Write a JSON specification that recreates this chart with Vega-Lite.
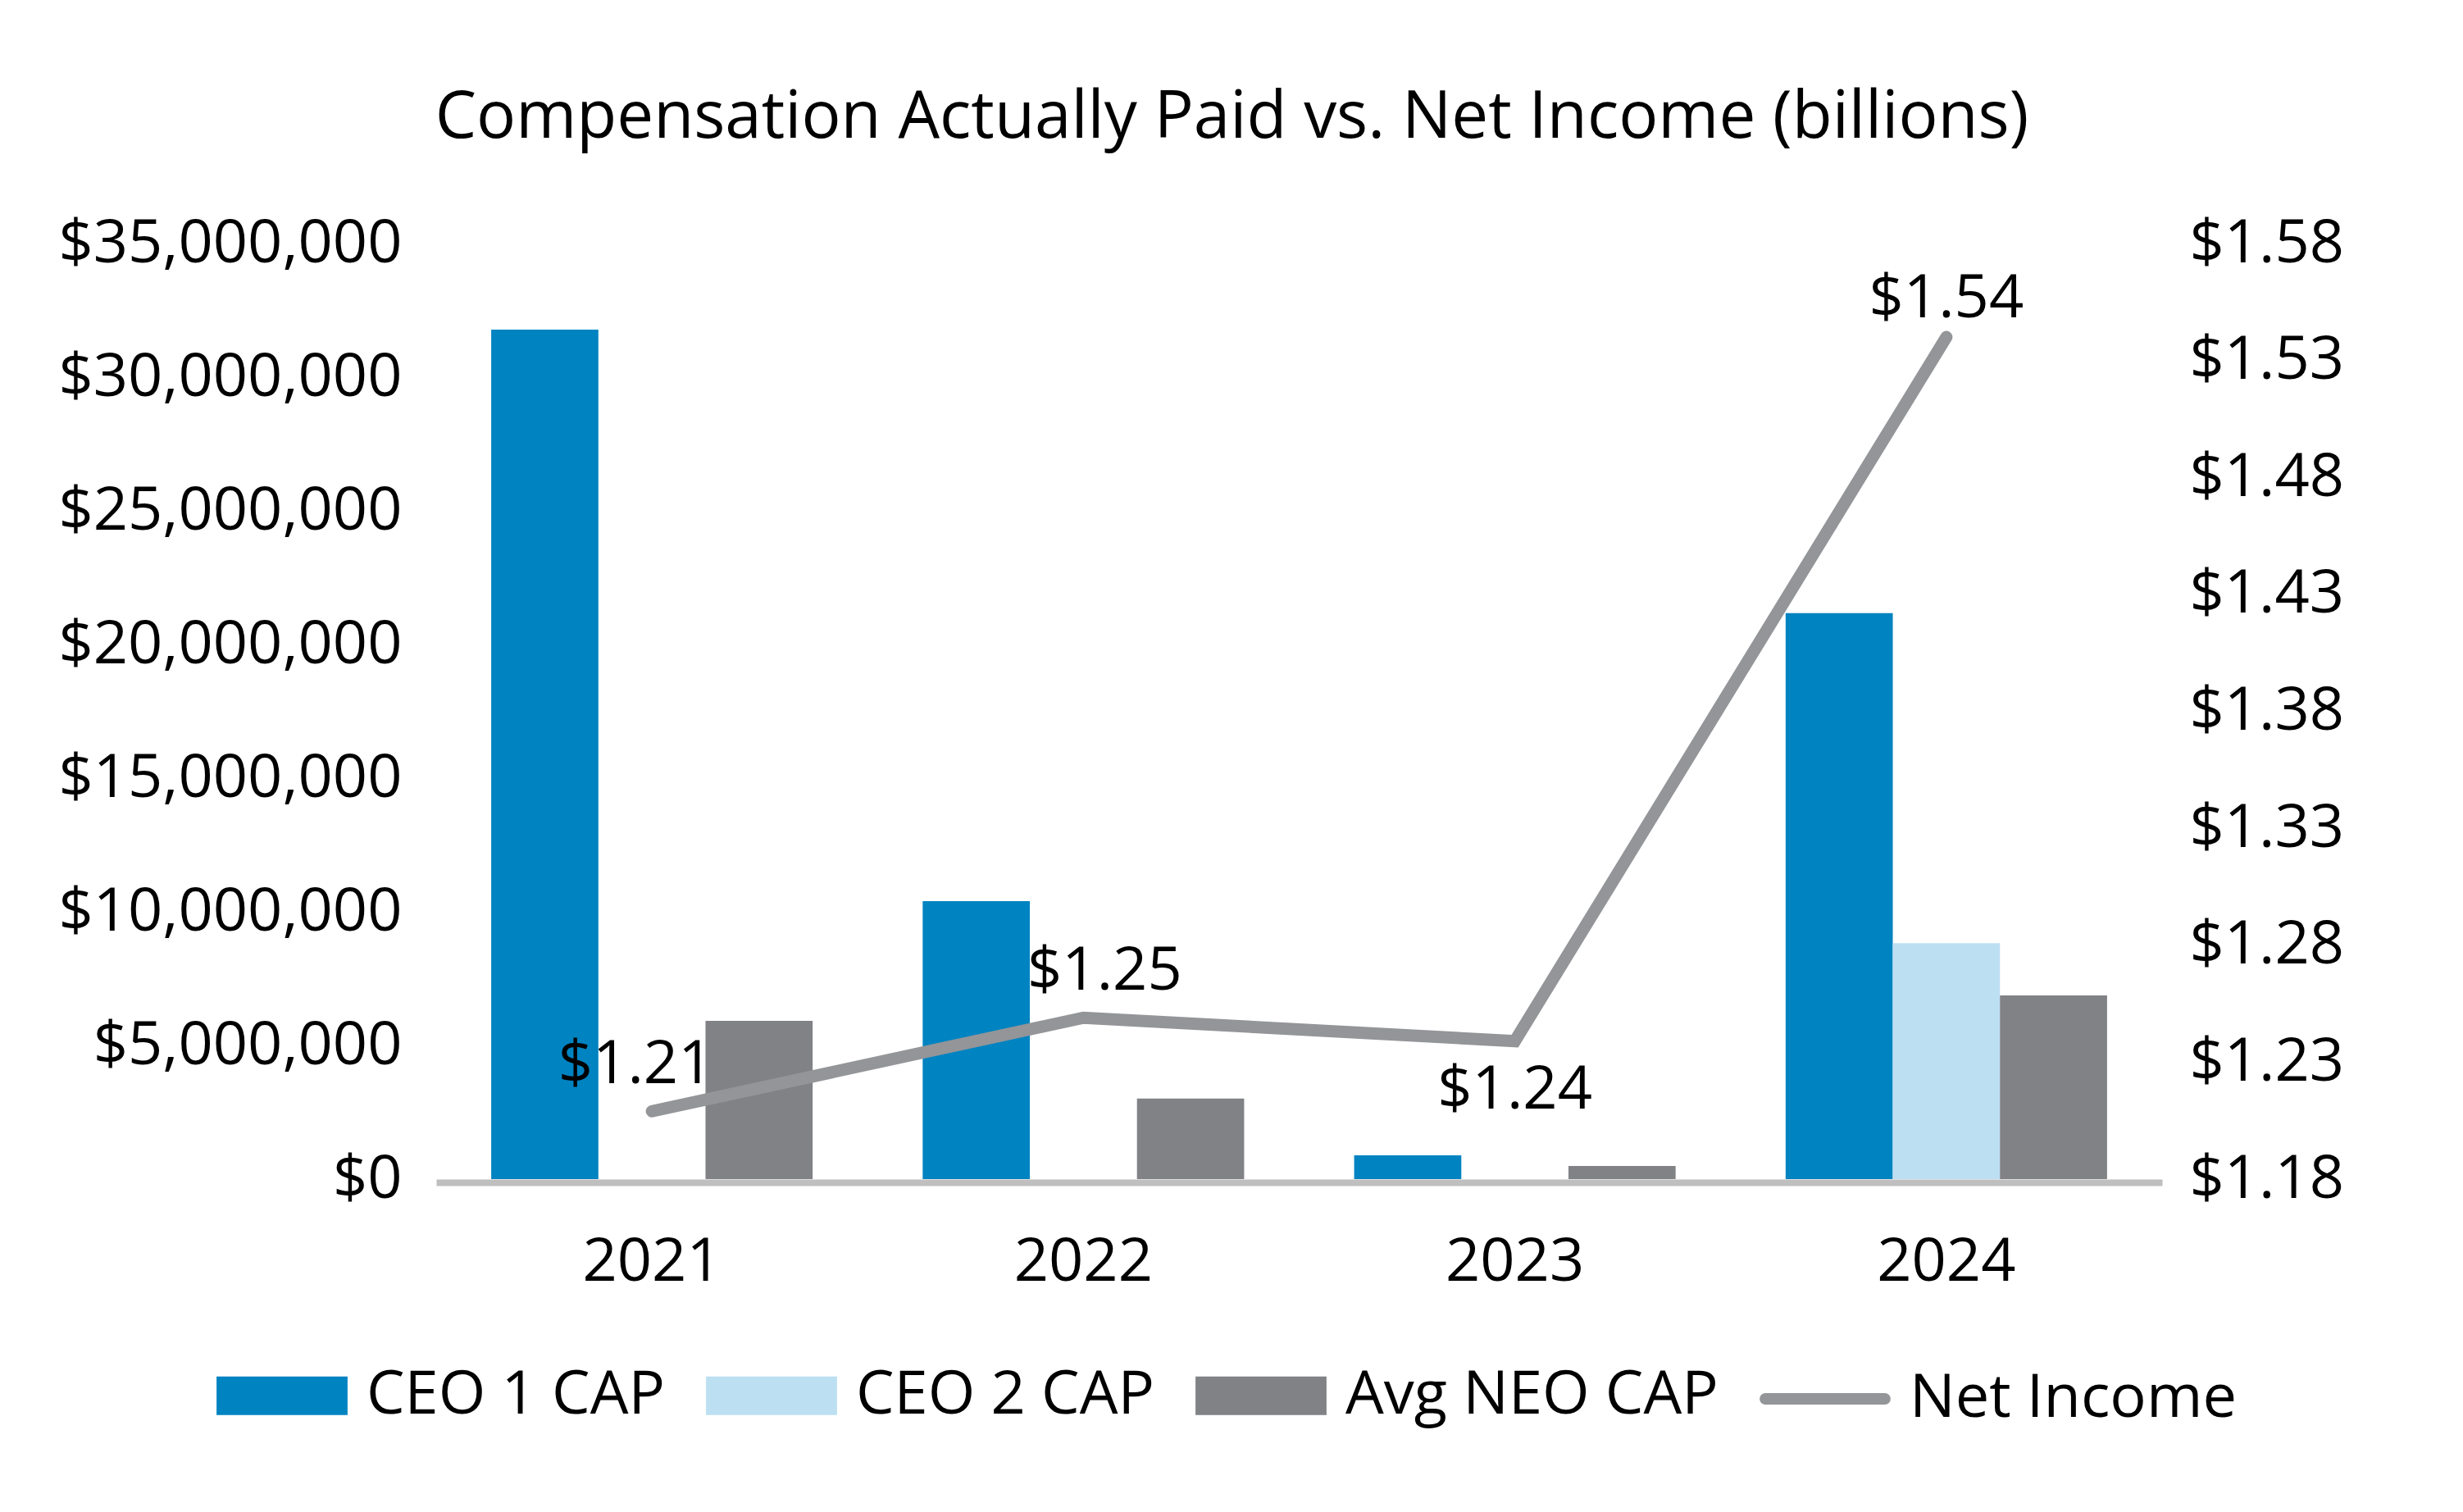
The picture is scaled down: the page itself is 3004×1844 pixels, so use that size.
{
  "$schema": "https://vega.github.io/schema/vega-lite/v6.json",
  "width": 2105,
  "height": 1141,
  "autosize": {"type": "none"},
  "padding": {"left": 532, "top": 297, "right": 367, "bottom": 406},
  "background": "white",
  "config": {"view": {"stroke": null}, "font": "Open Sans", "axis": {"labelLimit": 0}, "legend": {"labelLimit": 0}},
  "title": {
    "text": "Compensation Actually Paid vs. Net Income (billions)",
    "fontSize": 80,
    "fontWeight": "normal",
    "font": "Open Sans",
    "color": "black",
    "anchor": "middle",
    "frame": "group",
    "dx": -82,
    "baseline": "alphabetic",
    "offset": 12
  },
  "data": {
    "values": [
      {"year": "2021", "series": "CEO 1 CAP", "value": 31780000},
      {"year": "2022", "series": "CEO 1 CAP", "value": 10400000},
      {"year": "2023", "series": "CEO 1 CAP", "value": 890000},
      {"year": "2024", "series": "CEO 1 CAP", "value": 21170000},
      {"year": "2024", "series": "CEO 2 CAP", "value": 8830000},
      {"year": "2021", "series": "Avg NEO CAP", "value": 5920000},
      {"year": "2022", "series": "Avg NEO CAP", "value": 3010000},
      {"year": "2023", "series": "Avg NEO CAP", "value": 490000},
      {"year": "2024", "series": "Avg NEO CAP", "value": 6870000},
      {"year": "2021", "series": "Net Income", "value": 1.209},
      {"year": "2022", "series": "Net Income", "value": 1.249},
      {"year": "2023", "series": "Net Income", "value": 1.239},
      {"year": "2024", "series": "Net Income", "value": 1.54}
    ]
  },
  "layer": [
    {
      "transform": [{"filter": "datum.series !== 'Net Income'"}],
      "mark": {"type": "bar"},
      "encoding": {
        "x": {
          "field": "year",
          "type": "nominal",
          "scale": {"paddingInner": 0.255, "paddingOuter": 0.1275},
          "axis": {
            "orient": "bottom",
            "title": null,
            "labelAngle": 0,
            "labelFont": "Open Sans",
            "labelFontSize": 74,
            "labelColor": "black",
            "labelLimit": 0,
            "domainColor": "#BFBFBF",
            "domainWidth": 8,
            "ticks": false,
            "tickSize": 0,
            "labelPadding": 119,
            "labelBaseline": "alphabetic",
            "offset": 4,
            "zindex": 1,
            "grid": false
          }
        },
        "xOffset": {
          "field": "series",
          "type": "nominal",
          "scale": {"domain": ["CEO 1 CAP", "CEO 2 CAP", "Avg NEO CAP"], "paddingInner": 0, "paddingOuter": 0}
        },
        "y": {
          "field": "value",
          "type": "quantitative",
          "scale": {"domain": [0, 35000000], "nice": false},
          "axis": {
            "orient": "left",
            "title": null,
            "values": [0, 5000000, 10000000, 15000000, 20000000, 25000000, 30000000, 35000000],
            "format": "$,.0f",
            "labelFont": "Open Sans",
            "labelFontSize": 74,
            "labelColor": "black",
            "labelLimit": 0,
            "domain": false,
            "ticks": false,
            "tickSize": 0,
            "grid": false,
            "labelPadding": 42
          }
        },
        "color": {
          "field": "series",
          "type": "nominal",
          "scale": {
            "domain": ["CEO 1 CAP", "CEO 2 CAP", "Avg NEO CAP", "Net Income"],
            "range": ["#0083C1", "#BDDFF2", "#818286", "#939598"]
          },
          "legend": {
            "orient": "none",
            "legendX": -268,
            "legendY": 1325,
            "direction": "horizontal",
            "title": null,
            "symbolSize": 21250,
            "labelFont": "Open Sans",
            "labelFontSize": 74,
            "labelColor": "black",
            "labelLimit": 0,
            "labelOffset": 23,
            "columnPadding": 29,
            "padding": 0,
            "encode": {
              "symbols": {
                "update": {
                  "shape": {"signal": "datum.value === 'Net Income' ? 'stroke' : 'M-1,-0.226H1V0.226H-1Z'"},
                  "fill": {"signal": "datum.value === 'Net Income' ? 'transparent' : (datum.value === 'CEO 1 CAP' ? '#0083C1' : (datum.value === 'CEO 2 CAP' ? '#BDDFF2' : '#818286'))"},
                  "stroke": {"signal": "datum.value === 'Net Income' ? '#939598' : 'transparent'"},
                  "strokeWidth": {"value": 14},
                  "strokeCap": {"value": "round"},
                  "opacity": {"value": 1}
                }
              }
            }
          }
        }
      }
    },
    {
      "transform": [{"filter": "datum.series === 'Net Income'"}],
      "layer": [
        {
          "mark": {"type": "line", "strokeWidth": 15, "strokeCap": "round", "strokeJoin": "miter"},
          "encoding": {
            "x": {"field": "year", "type": "nominal"},
            "y": {
              "field": "value",
              "type": "quantitative",
              "scale": {"domain": [1.18, 1.58], "nice": false, "zero": false},
              "axis": {
                "orient": "right",
                "title": null,
                "values": [1.18, 1.23, 1.28, 1.33, 1.38, 1.43, 1.48, 1.53, 1.58],
                "format": "$.2f",
                "labelFont": "Open Sans",
                "labelFontSize": 74,
                "labelColor": "black",
                "labelLimit": 0,
                "domain": false,
                "ticks": false,
                "tickSize": 0,
                "grid": false,
                "labelPadding": 33
              }
            },
            "color": {"field": "series", "type": "nominal"}
          }
        },
        {
          "transform": [{"filter": "datum.year === '2021'"}],
          "mark": {"type": "text", "font": "Open Sans", "fontSize": 74, "color": "black", "baseline": "alphabetic", "dx": -20, "dy": -34},
          "encoding": {
            "x": {"field": "year", "type": "nominal"},
            "y": {"field": "value", "type": "quantitative"},
            "text": {"field": "value", "type": "quantitative", "format": "$.2f"}
          }
        },
        {
          "transform": [{"filter": "datum.year === '2022'"}],
          "mark": {"type": "text", "font": "Open Sans", "fontSize": 74, "color": "black", "baseline": "alphabetic", "dx": 26, "dy": -34},
          "encoding": {
            "x": {"field": "year", "type": "nominal"},
            "y": {"field": "value", "type": "quantitative"},
            "text": {"field": "value", "type": "quantitative", "format": "$.2f"}
          }
        },
        {
          "transform": [{"filter": "datum.year === '2023'"}],
          "mark": {"type": "text", "font": "Open Sans", "fontSize": 74, "color": "black", "baseline": "alphabetic", "dx": 0, "dy": 82},
          "encoding": {
            "x": {"field": "year", "type": "nominal"},
            "y": {"field": "value", "type": "quantitative"},
            "text": {"field": "value", "type": "quantitative", "format": "$.2f"}
          }
        },
        {
          "transform": [{"filter": "datum.year === '2024'"}],
          "mark": {"type": "text", "font": "Open Sans", "fontSize": 74, "color": "black", "baseline": "alphabetic", "dx": 0, "dy": -24},
          "encoding": {
            "x": {"field": "year", "type": "nominal"},
            "y": {"field": "value", "type": "quantitative"},
            "text": {"field": "value", "type": "quantitative", "format": "$.2f"}
          }
        }
      ]
    }
  ],
  "resolve": {"scale": {"y": "independent"}}
}
